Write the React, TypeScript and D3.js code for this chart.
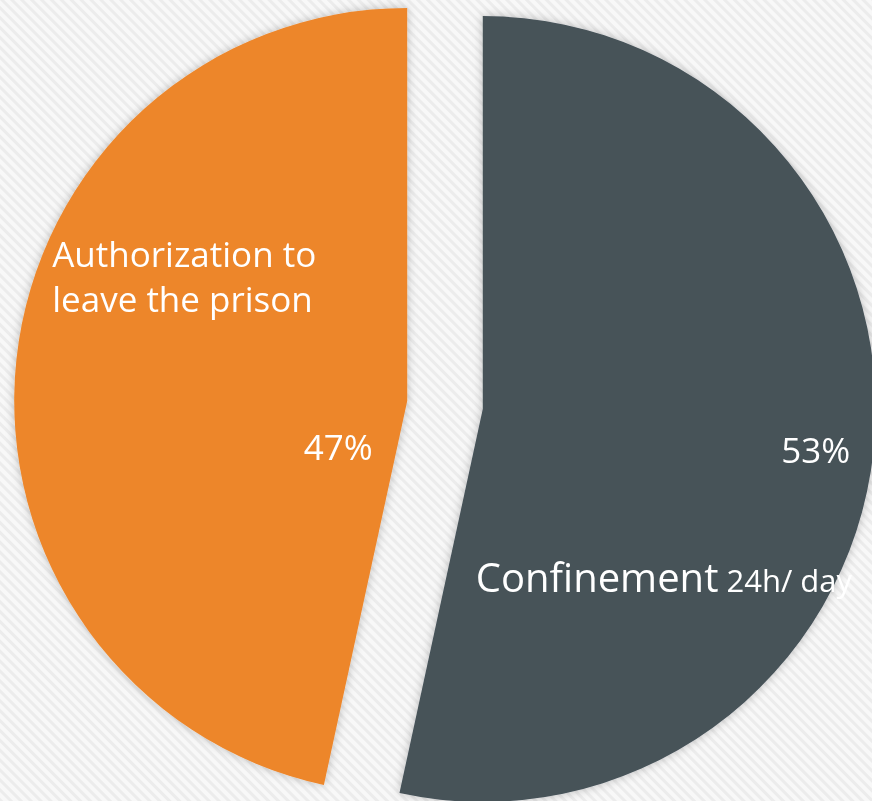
import React from "react";
import * as d3 from "d3";

const categories = ["Confinement", "Authorization to leave the prison"];
const values = [53.4, 46.6];
const colors = ["#465259", "#ED862A"];

const W = 872;
const H = 801;
const CX = 445;
const CY = 405;
const R = 393;
const EXPLODE = 38;

export default function App() {
  const pie = d3.pie<number>().sort(null).startAngle(0).endAngle(2 * Math.PI);
  const arcs = pie(values);
  const arcGen = d3.arc<d3.PieArcDatum<number>>().innerRadius(0).outerRadius(R);
  const total = d3.sum(values);
  const pct = (v: number) => `${Math.round((v / total) * 100)}%`;

  const offsets = arcs.map((a) => {
    const mid = (a.startAngle + a.endAngle) / 2;
    return [Math.sin(mid) * EXPLODE, -Math.cos(mid) * EXPLODE];
  });

  const font = "'Open Sans', 'Noto Sans', sans-serif";

  return (
    <svg
      width={W}
      height={H}
      style={{ position: "fixed", left: 0, top: 0, display: "block" }}
    >
      <defs>
        <pattern
          id="stripes"
          width="7"
          height="7"
          patternUnits="userSpaceOnUse"
          patternTransform="rotate(-45)"
        >
          <rect width="7" height="7" fill="#f8f8f8" />
          <rect width="3" height="7" fill="#ececec" />
        </pattern>
        <filter id="shadow" x="-10%" y="-10%" width="120%" height="120%">
          <feDropShadow dx="0" dy="0" stdDeviation="5" floodColor="#000" floodOpacity="0.25" />
        </filter>
      </defs>
      <rect width={W} height={H} fill="url(#stripes)" />
      {arcs.map((a, i) => (
        <g key={categories[i]} transform={`translate(${CX + offsets[i][0]},${CY + offsets[i][1]})`}>
          <path d={arcGen(a) || ""} fill={colors[i]} filter="url(#shadow)" />
        </g>
      ))}
      {/* orange slice labels */}
      <g transform={`translate(${CX + offsets[1][0]},${CY + offsets[1][1]})`} fill="#fff" fontFamily={font} fontWeight={500}>
        <text x={-355} y={-134} fontSize={35}>Authorization to</text>
        <text x={-355} y={-89} fontSize={35}>leave the prison</text>
        <text x={-69} y={59} fontSize={35} textAnchor="middle">{pct(values[1])}</text>
      </g>
      {/* dark slice labels */}
      <g transform={`translate(${CX + offsets[0][0]},${CY + offsets[0][1]})`} fill="#fff" fontFamily={font} fontWeight={500}>
        <text x={333} y={54} fontSize={35} textAnchor="middle">{pct(values[0])}</text>
        <text x={-7} y={183} fontSize={40}>
          {categories[0]}
          <tspan fontSize={31}> 24h/ day</tspan>
        </text>
      </g>
    </svg>
  );
}
